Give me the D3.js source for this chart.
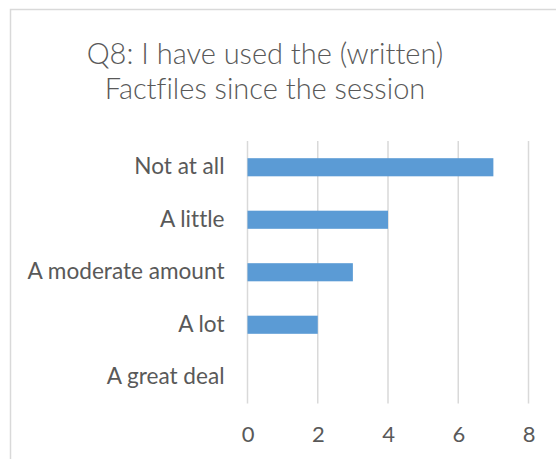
<!DOCTYPE html>
<html>
<head>
<meta charset="utf-8">
<script src="https://cdn.jsdelivr.net/npm/d3@7"></script>
<style>
  body { margin: 0; background: #fff; }
  text { font-family: Lato, "Open Sans", sans-serif; fill: #595959; font-variant-ligatures: none; }
</style>
</head>
<body>
<div id="chart"></div>
<script>
// chart data
let categories = ["Not at all", "A little", "A moderate amount", "A lot", "A great deal"]
let counts = [7, 4, 3, 2, 0]
let tickValues = [0, 2, 4, 6, 8]
let titleLines = ["Q8: I have used the (written)", "Factfiles since the session"]

let svgWidth = 556
let svgHeight = 459

let svg = d3.select("#chart").append("svg")
    .attr("width", svgWidth)
    .attr("height", svgHeight)

// chart area border (runs off the right and bottom edges)
svg.append("rect")
    .attr("x", 10.5).attr("y", 9.5)
    .attr("width", 600).attr("height", 500)
    .attr("fill", "#fff")
    .attr("stroke", "#d9d9d9")
    .attr("stroke-width", 1.5)

// title
svg.append("g").selectAll("text")
    .data(titleLines)
    .join("text")
    .attr("x", 265)
    .attr("y", (d, i) => 64 + i * 35)
    .attr("text-anchor", "middle")
    .style("font-size", "29px")
    .style("font-weight", 300)
    .text(d => d)

// plot area
let plot = { left: 247.5, right: 528.5, top: 141, bottom: 403.5 }

let x = d3.scaleLinear().domain([0, 8]).range([plot.left, plot.right])
let y = d3.scaleBand().domain(categories).range([plot.top, plot.bottom])
    .paddingInner(0.655).paddingOuter(0.3275)

// gridlines
svg.append("g").selectAll("line")
    .data(tickValues)
    .join("line")
    .attr("x1", d => x(d)).attr("x2", d => x(d))
    .attr("y1", plot.top).attr("y2", plot.bottom)
    .attr("stroke", "#d9d9d9")
    .attr("stroke-width", 1.5)

// x axis labels
let xAxis = svg.append("g")
    .attr("transform", `translate(0, ${plot.bottom})`)
    .call(d3.axisBottom(x).tickValues(tickValues).tickSize(0).tickPadding(23))
xAxis.select(".domain").remove()
xAxis.selectAll("text").style("font-size", "22px").attr("fill", "#595959")

// category labels
let yAxis = svg.append("g")
    .attr("transform", `translate(${plot.left}, 0)`)
    .call(d3.axisLeft(y).tickSize(0).tickPadding(23))
yAxis.select(".domain").remove()
yAxis.selectAll("text").style("font-size", "22.6px").attr("fill", "#595959")

// bars
svg.append("g").selectAll("rect")
    .data(categories)
    .join("rect")
    .attr("x", x(0))
    .attr("y", d => y(d))
    .attr("width", (d, i) => x(counts[i]) - x(0))
    .attr("height", y.bandwidth())
    .attr("fill", "#5b9bd5")
</script>
</body>
</html>
